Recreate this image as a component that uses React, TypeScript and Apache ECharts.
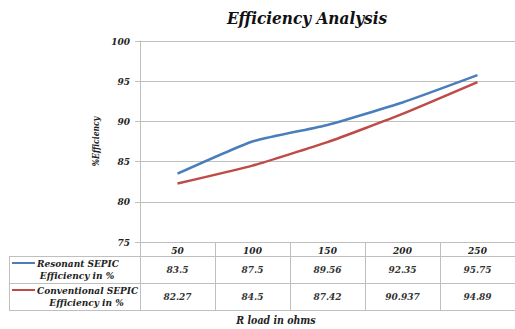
import React, { useEffect, useRef } from "react";
import * as echarts from "echarts";

const categories = ["50", "100", "150", "200", "250"];
const resonant = [83.5, 87.5, 89.56, 92.35, 95.75];
const conventional = [82.27, 84.5, 87.42, 90.937, 94.89];
const seriesNames = ["Resonant SEPIC Efficiency in %", "Conventional SEPIC Efficiency in %"];
const rowLabelLines = [
  ["Resonant SEPIC", "Efficiency in %"],
  ["Conventional SEPIC", "Efficiency in %"],
];
const yTicks = [75, 80, 85, 90, 95, 100];
const colors = ["#4a7ebb", "#be4b48"];

const FONT = "DejaVu Serif Condensed, DejaVu Serif";
const GRID_COLOR = "#bfbfbf";

export default function App() {
  const ref = useRef<HTMLDivElement>(null);
  useEffect(() => {
    if (!ref.current) return;
    const chart = echarts.init(ref.current, undefined, { renderer: "svg" });
    const labelStyle = {
      fontFamily: FONT,
      fontStyle: "italic",
      fontWeight: "bold",
      fontSize: 10,
      color: "#222",
    };
    const line = (x1: number, y1: number, x2: number, y2: number) => ({
      type: "line",
      shape: { x1, y1, x2, y2 },
      style: { stroke: GRID_COLOR, lineWidth: 1 },
      silent: true,
    });
    const txt = (text: string, x: number, y: number, align: string, size = 10) => ({
      type: "text",
      x,
      y,
      style: {
        text,
        fontFamily: FONT,
        fontStyle: "italic",
        fontWeight: "bold",
        fontSize: size,
        fill: "#222",
        textAlign: align,
        textVerticalAlign: "middle",
      },
    });
    const rowY = [263, 290];
    const rowY2 = [275, 302];
    const line1Left = [37, 37];
    const line2Center = [77, 86.5];
    const graphic: any[] = [
      line(9, 256.5, 515, 256.5),
      line(9, 283.5, 515, 283.5),
      line(9, 310.5, 515, 310.5),
      line(9.5, 256, 9.5, 311),
      txt("R load in ohms", 276, 320, "center", 10.5),
    ];
    rowLabelLines.forEach((lines, i) => {
      graphic.push({
        type: "line",
        shape: { x1: 12, y1: rowY[i], x2: 35, y2: rowY[i] },
        style: { stroke: colors[i], lineWidth: 2 },
      });
      graphic.push(txt(lines[0], line1Left[i], rowY[i], "left"));
      graphic.push(txt(lines[1], line2Center[i], rowY2[i], "center"));
    });

    chart.setOption({
      animation: false,
      title: {
        text: "Efficiency Analysis",
        left: 302,
        top: 4,
        textAlign: "center",
        textStyle: {
          fontFamily: FONT,
          fontStyle: "italic",
          fontWeight: "bold",
          fontSize: 17,
          color: "#111",
        },
      },
      grid: { left: 140, right: 0, top: 41, bottom: 87 },
      xAxis: [
        {
          type: "category",
          data: categories,
          boundaryGap: true,
          axisLine: { show: true, lineStyle: { color: GRID_COLOR } },
          axisTick: { show: true, length: 68, lineStyle: { color: GRID_COLOR } },
          axisLabel: { ...labelStyle, margin: 3 },
          splitLine: { show: false },
        },
        {
          type: "category",
          data: resonant.map((v) => String(v)),
          position: "bottom",
          offset: 0,
          boundaryGap: true,
          axisLine: { show: false },
          axisTick: { show: false },
          axisLabel: { ...labelStyle, color: "#333", margin: 22 },
        },
        {
          type: "category",
          data: conventional.map((v) => String(v)),
          position: "bottom",
          offset: 0,
          boundaryGap: true,
          axisLine: { show: false },
          axisTick: { show: false },
          axisLabel: { ...labelStyle, color: "#333", margin: 49 },
        },
      ],
      yAxis: {
        type: "value",
        min: yTicks[0],
        max: yTicks[yTicks.length - 1],
        interval: 5,
        name: "%Efficiency",
        nameLocation: "middle",
        nameRotate: 90,
        nameGap: 37,
        nameTextStyle: {
          fontFamily: FONT,
          fontStyle: "italic",
          fontWeight: "bold",
          fontSize: 8.5,
          color: "#222",
        },
        axisLine: { show: true, lineStyle: { color: GRID_COLOR } },
        axisTick: { show: true, length: 5, lineStyle: { color: GRID_COLOR } },
        axisLabel: { ...labelStyle, margin: 10 },
        splitLine: { show: true, lineStyle: { color: GRID_COLOR, width: 1 } },
      },
      series: [
        {
          name: seriesNames[0],
          type: "line",
          data: resonant,
          smooth: 0.15,
          symbol: "none",
          lineStyle: { color: colors[0], width: 2.5 },
          itemStyle: { color: colors[0] },
        },
        {
          name: seriesNames[1],
          type: "line",
          data: conventional,
          smooth: 0.15,
          symbol: "none",
          lineStyle: { color: colors[1], width: 2.5 },
          itemStyle: { color: colors[1] },
        },
      ],
      graphic,
    });
    return () => chart.dispose();
  }, []);
  return (
    <div
      ref={ref}
      style={{ position: "fixed", left: 0, top: 0, width: 515, height: 329, background: "#fff" }}
    />
  );
}
